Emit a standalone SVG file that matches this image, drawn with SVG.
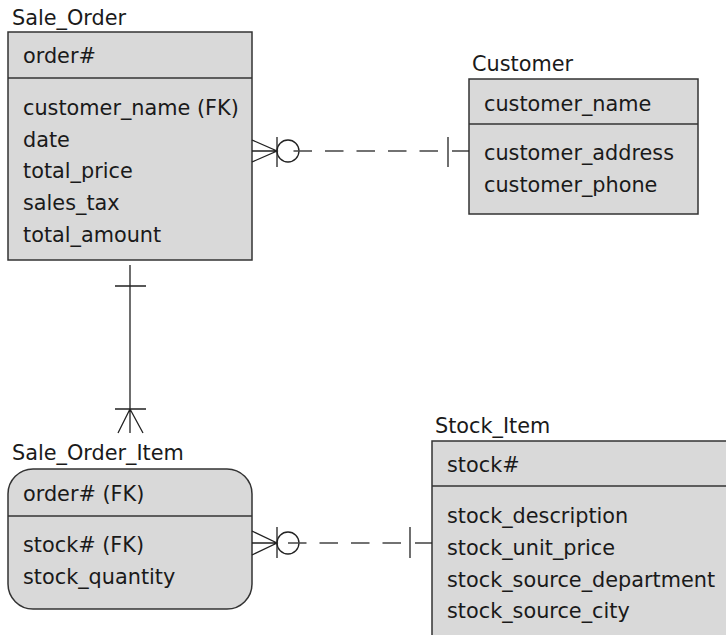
<svg xmlns="http://www.w3.org/2000/svg" width="726" height="635" viewBox="0 0 726 635">
<style>
text{font-family:"DejaVu Sans","Liberation Sans",sans-serif;font-size:20.8px;fill:#1a1a1a}
.box{fill:#d9d9d9;stroke:#333;stroke-width:1.5}
.div{stroke:#333;stroke-width:1.5}
.ln{stroke:#222;stroke-width:1.3;fill:none}
.dash{stroke:#444;stroke-width:1.3;stroke-dasharray:18.5 13;fill:none}
</style>
<rect width="726" height="635" fill="#fff"/>
<g id="Sale_Order">
<text x="12" y="25">Sale_Order</text>
<rect class="box" x="8" y="32" width="244" height="228"/>
<line class="div" x1="8" y1="78" x2="252" y2="78"/>
<text x="23" y="63">order#</text>
<text x="23" y="115">customer_name (FK)</text>
<text x="23" y="147">date</text>
<text x="23" y="178">total_price</text>
<text x="23" y="210">sales_tax</text>
<text x="23" y="242">total_amount</text>
</g>
<g id="Customer">
<text x="472" y="71">Customer</text>
<rect class="box" x="469" y="79" width="229" height="135"/>
<line class="div" x1="469" y1="124" x2="698" y2="124"/>
<text x="484" y="111">customer_name</text>
<text x="484" y="160">customer_address</text>
<text x="484" y="192">customer_phone</text>
</g>
<g id="Sale_Order_Item">
<text x="12" y="460">Sale_Order_Item</text>
<rect class="box" x="8" y="469" width="244" height="140" rx="25" ry="25"/>
<line class="div" x1="8" y1="516" x2="252" y2="516"/>
<text x="23" y="501">order# (FK)</text>
<text x="23" y="552">stock# (FK)</text>
<text x="23" y="584">stock_quantity</text>
</g>
<g id="Stock_Item">
<text x="435" y="433">Stock_Item</text>
<rect class="box" x="432" y="441" width="320" height="220"/>
<line class="div" x1="432" y1="486" x2="740" y2="486"/>
<text x="447" y="472">stock#</text>
<text x="447" y="523">stock_description</text>
<text x="447" y="555">stock_unit_price</text>
<text x="447" y="587">stock_source_department</text>
<text x="447" y="618">stock_source_city</text>
</g>
<g id="connectors">
<!-- Sale_Order to Customer -->
<path class="ln" d="M252 140 L277 151 L252 162 M252 151 H277 M277 137 V167"/>
<circle class="ln" cx="288" cy="151" r="11"/>
<line class="dash" x1="293.5" y1="151" x2="440" y2="151"/>
<line class="ln" x1="448" y1="137" x2="448" y2="167"/>
<line class="ln" x1="452" y1="151" x2="469" y2="151"/>
<!-- Sale_Order to Sale_Order_Item -->
<path class="ln" d="M130 265 V433 M115 286 H146 M115 409 H146 M130 409 L118 433 M130 409 L143 433"/>
<!-- Sale_Order_Item to Stock_Item -->
<path class="ln" d="M252 531 L277 543 L252 555 M252 543 H277 M277 527 V558"/>
<circle class="ln" cx="288" cy="543" r="11"/>
<line class="dash" x1="287" y1="543" x2="402" y2="543" style="stroke-dashoffset:-1"/>
<line class="ln" x1="410" y1="527" x2="410" y2="558"/>
<line class="ln" x1="415" y1="543" x2="432" y2="543"/>
</g>
</svg>
